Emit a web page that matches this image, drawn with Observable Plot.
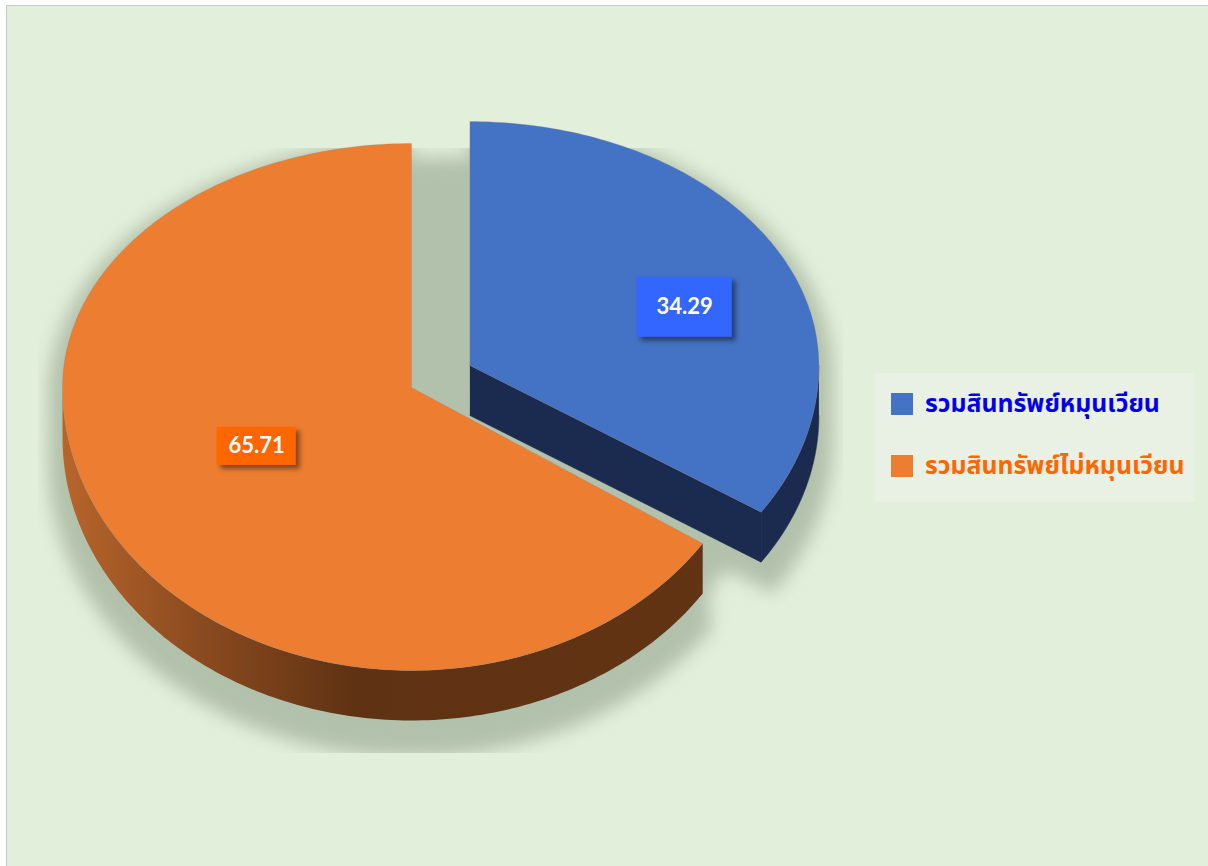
<!DOCTYPE html>
<html>
<head>
<meta charset="utf-8">
<script src="https://cdn.jsdelivr.net/npm/d3@7"></script>
<script src="https://cdn.jsdelivr.net/npm/@observablehq/plot@0.6"></script>
<style>
  html, body { margin: 0; padding: 0; background: #ffffff; }
  #frame { position: absolute; left: 6px; top: 5px; width: 1210px; height: 870px; border: 1px solid #c8c8c8; background: #e2efda; box-sizing: border-box; }
  #chart { position: absolute; left: 0; top: 0; }
  #legend { position: absolute; left: 875px; top: 373px; width: 320px; height: 129px; background: #e9f1e4; }
  .item { position: absolute; left: 16px; display: flex; align-items: center; font-family: "Noto Sans Thai", "Noto Sans", "DejaVu Sans", sans-serif; font-weight: bold; font-size: 24.8px; white-space: nowrap; }
  .sw { width: 22px; height: 22px; margin-right: 12px; flex: none; }
</style>
</head>
<body>
<div id="frame"></div>
<div id="chart"></div>
<div id="legend"></div>
<script>
// ---------- data ----------
const categories = ["รวมสินทรัพย์หมุนเวียน", "รวมสินทรัพย์ไม่หมุนเวียน"];
const values = [34.29, 65.71];
const labels = ["34.29", "65.71"];

// ---------- style / layout ----------
const topColors = ["#4472c4", "#ed7d31"];
const sideColors = ["#1b2b50", "url(#orangeSide)"];
const labelBoxColors = ["#3366ff", "#ff6600"];
const legendTextColors = ["#0000ee", "#ff6600"];
const CX = 411, CY = 387, RX = 349, RYT = 244, DEPTH = 50;
const RYB = [266, 283];           // front half-axis per slice (perspective)
const EXPLODE = [0.19, 0];
const LABEL_R = [0.66, 0.49], LABEL_SHIFT = [7, 3.2]; // degrees
const LABEL_BOX = [[95, 60], [79, 38]];

const toRad = d => d * Math.PI / 180;
function pt(c, th, r = 1, ryb = RYB[1]) {
  const cs = Math.cos(th);
  return [c[0] + r * RX * Math.sin(th), c[1] - r * (cs >= 0 ? RYT : ryb) * cs];
}
function arcPts(c, a0, a1, r = 1, dy = 0, ryb = RYB[1]) {
  const n = Math.max(2, Math.ceil((a1 - a0) / toRad(1)));
  const out = [];
  for (let i = 0; i <= n; i++) {
    const p = pt(c, a0 + (a1 - a0) * i / n, r, ryb);
    out.push([p[0], p[1] + dy]);
  }
  return out;
}

// slices geometry from values
const total = d3.sum(values);
let acc = 0;
const slices = values.map((v, i) => {
  const a0 = acc / total * 2 * Math.PI;
  acc += v;
  const a1 = acc / total * 2 * Math.PI;
  const mid = (a0 + a1) / 2;
  const off = pt([0, 0], mid, EXPLODE[i]);
  return {i, a0, a1, mid, c: [CX + off[0], CY + off[1]], ryb: RYB[i]};
});

const rows = (pts, id) => pts.map(([x, y]) => ({x, y, id}));

// shadow
let shadowRows = [];
slices.forEach(s => {
  [8, 25, 45, 62, 75].forEach((dy, k) => {
    const c = [s.c[0], s.c[1] + dy];
    shadowRows = shadowRows.concat(rows([c, ...arcPts(c, s.a0, s.a1, 1.04, 0, s.ryb)], `sh${s.i}-${k}`));
  });
});
{
  const c = [CX + 35, CY + 14];
  shadowRows = shadowRows.concat(rows(arcPts(c, 0, 2 * Math.PI, 1.0), "shfull"));
}

// side faces
function rimSide(s) {
  const lo = Math.max(s.a0, Math.PI / 2), hi = Math.min(s.a1, 1.5 * Math.PI);
  if (hi <= lo) return null;
  const top = arcPts(s.c, lo, hi, 1, 0, s.ryb);
  const bot = arcPts(s.c, lo, hi, 1, DEPTH, s.ryb).reverse();
  return top.concat(bot);
}
function cutFace(s, a) {
  const p = pt(s.c, a, 1, s.ryb);
  return [s.c, p, [p[0], p[1] + DEPTH], [s.c[0], s.c[1] + DEPTH]];
}

const marks = [];
marks.push(Plot.line(shadowRows, {x: "x", y: "y", z: "id", fill: "#b2c1ab", stroke: "none", ariaDescription: "pieshadow"}));

const s0 = slices[0], s1 = slices[1];
const sideDraw = [];
{
  const r = rimSide(s1);
  if (r) sideDraw.push({pts: r, fill: sideColors[1]});
}
{
  sideDraw.push({pts: cutFace(s0, s0.a1), fill: sideColors[0]});
  const r = rimSide(s0);
  if (r) sideDraw.push({pts: r, fill: sideColors[0]});
}
sideDraw.forEach((d, k) => {
  marks.push(Plot.line(rows(d.pts, "side" + k), {x: "x", y: "y", fill: d.fill, stroke: d.fill.startsWith("url") ? "none" : d.fill, strokeWidth: 0.5}));
});
[s0, s1].forEach(s => {
  marks.push(Plot.line(rows([s.c, ...arcPts(s.c, s.a0, s.a1, 1, 0, s.ryb), s.c], "top" + s.i), {x: "x", y: "y", fill: topColors[s.i], stroke: "#8a8a8a", strokeOpacity: 0.35, strokeWidth: 0.8}));
});

// labels
const labelRows = slices.map(s => {
  const p = pt(s.c, s.mid + toRad(LABEL_SHIFT[s.i]), LABEL_R[s.i], s.ryb);
  const [w, h] = LABEL_BOX[s.i];
  return {x: p[0], y: p[1], x1: p[0] - w / 2, x2: p[0] + w / 2, y1: p[1] - h / 2, y2: p[1] + h / 2, text: labels[s.i], i: s.i};
});
labelRows.forEach(r => {
  marks.push(Plot.rect([r], {x1: "x1", x2: "x2", y1: "y1", y2: "y2", fill: labelBoxColors[r.i], ariaDescription: "labelbox"}));
});
marks.push(Plot.text(labelRows, {x: "x", y: "y", text: "text", fill: "white", fontSize: 22, fontWeight: "bold", fontFamily: "Lato, 'Open Sans', sans-serif"}));

const svg = Plot.plot({
  width: 1208, height: 866, margin: 0,
  x: {domain: [0, 1208], range: [0, 1208], axis: null},
  y: {domain: [0, 866], range: [0, 866], axis: null},
  style: {background: "transparent", overflow: "visible"},
  marks
});

d3.select(svg).insert("defs", ":first-child").html(`
  <linearGradient id="orangeSide" gradientUnits="userSpaceOnUse" x1="${CX - RX}" x2="${CX + RX}" y1="0" y2="0">
    <stop offset="0" stop-color="#b8652b"/>
    <stop offset="0.2" stop-color="#8a4a1f"/>
    <stop offset="0.42" stop-color="#5f3213"/>
    <stop offset="1" stop-color="#623414"/>
  </linearGradient>
  <filter id="blurShadow" x="-20%" y="-20%" width="140%" height="140%">
    <feGaussianBlur stdDeviation="9"/>
  </filter>
  <clipPath id="shadowClip"><rect x="38" y="148" width="805" height="605"/></clipPath>
  <filter id="boxShadow" x="-30%" y="-30%" width="170%" height="170%">
    <feDropShadow dx="4" dy="4" stdDeviation="2.5" flood-color="#000" flood-opacity="0.45"/>
  </filter>
`);
const sh = svg.querySelector('[aria-description="pieshadow"]');
if (sh) {
  const wrap = document.createElementNS("http://www.w3.org/2000/svg", "g");
  wrap.setAttribute("clip-path", "url(#shadowClip)");
  sh.parentNode.insertBefore(wrap, sh);
  wrap.appendChild(sh);
  sh.setAttribute("filter", "url(#blurShadow)");
}
svg.querySelectorAll('[aria-description="labelbox"]').forEach(g => g.setAttribute("filter", "url(#boxShadow)"));
document.getElementById("chart").appendChild(svg);

// legend
const legend = d3.select("#legend");
categories.forEach((c, i) => {
  const item = legend.append("div").attr("class", "item").style("top", (i === 0 ? 16 : 78) + "px").style("height", "30px");
  item.append("div").attr("class", "sw").style("background", topColors[i]);
  item.append("span").style("color", legendTextColors[i]).text(c);
});
</script>
</body>
</html>
